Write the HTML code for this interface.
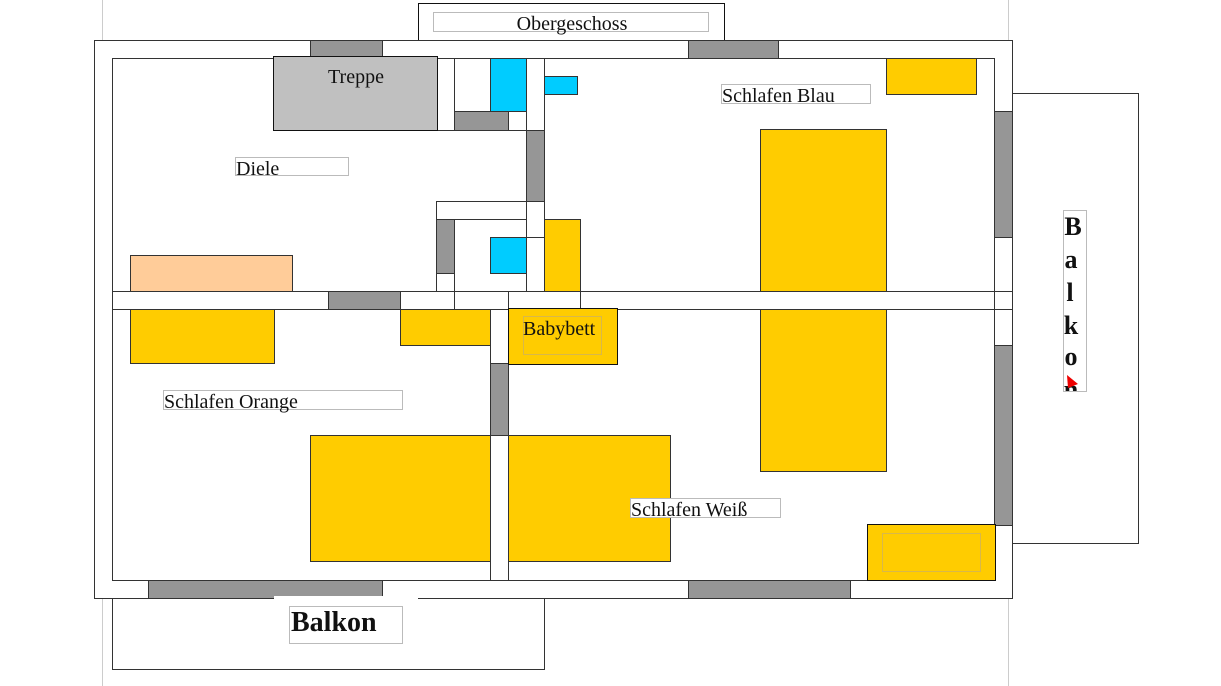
<!DOCTYPE html>
<html><head><meta charset="utf-8"><style>
html,body{margin:0;padding:0;background:#fff;}
svg{display:block;}
text{font-family:"Liberation Serif",serif;fill:#111;}
</style></head><body>
<svg width="1221" height="686" viewBox="0 0 1221 686" xmlns="http://www.w3.org/2000/svg">
<g stroke-width="1" shape-rendering="crispEdges">
<line x1="102.5" y1="0" x2="102.5" y2="686" stroke="#ccc"/>
<line x1="1008.5" y1="0" x2="1008.5" y2="686" stroke="#ccc"/>

<rect x="418.5" y="3.5" width="306" height="37" fill="#fff" stroke="#111"/>
<rect x="433.5" y="12.5" width="275" height="19" fill="#fff" stroke="#bbb"/>

<rect x="94.5" y="40.5" width="918" height="558" fill="#fff" stroke="#333"/>
<rect x="112.5" y="58.5" width="882" height="522" fill="#fff" stroke="#333"/>
<rect x="310.5" y="40.5" width="72" height="18" fill="#969696" stroke="#333"/>
<rect x="688.5" y="40.5" width="90" height="18" fill="#969696" stroke="#333"/>
<rect x="148.5" y="580.5" width="234" height="18" fill="#969696" stroke="#333"/>
<rect x="688.5" y="580.5" width="162" height="18" fill="#969696" stroke="#333"/>
<rect x="994.5" y="111.5" width="18" height="126" fill="#969696" stroke="#333"/>
<rect x="994.5" y="345.5" width="18" height="180" fill="#969696" stroke="#333"/>
<line x1="994.5" y1="291.5" x2="1012" y2="291.5" stroke="#333"/>
<line x1="994.5" y1="309.5" x2="1012" y2="309.5" stroke="#333"/>

<rect x="112.5" y="291.5" width="882" height="18" fill="#fff" stroke="#333"/>
<rect x="328.5" y="291.5" width="72" height="18" fill="#969696" stroke="#333"/>
<line x1="454.5" y1="291" x2="454.5" y2="309" stroke="#333"/>
<line x1="508.5" y1="291" x2="508.5" y2="309" stroke="#333"/>
<line x1="580.5" y1="291" x2="580.5" y2="309" stroke="#333"/>

<rect x="437.5" y="58.5" width="17" height="72" fill="#fff" stroke="#333"/>
<line x1="437" y1="130.5" x2="544" y2="130.5" stroke="#333"/>
<rect x="526.5" y="58.5" width="18" height="233" fill="#fff" stroke="#333"/>
<rect x="526.5" y="130.5" width="18" height="71" fill="#969696" stroke="#333"/>
<line x1="526" y1="237.5" x2="544" y2="237.5" stroke="#333"/>
<rect x="490.5" y="58.5" width="36" height="53" fill="#00ccff" stroke="#333"/>
<rect x="454.5" y="111.5" width="54" height="19" fill="#969696" stroke="#333"/>
<rect x="508.5" y="111.5" width="18" height="19" fill="#fff" stroke="#333"/>
<rect x="544.5" y="76.5" width="33" height="18" fill="#00ccff" stroke="#333"/>
<rect x="436.5" y="201.5" width="90" height="18" fill="#fff" stroke="#333"/>
<rect x="436.5" y="219.5" width="18" height="72" fill="#fff" stroke="#333"/>
<rect x="436.5" y="219.5" width="18" height="54" fill="#969696" stroke="#333"/>
<rect x="490.5" y="237.5" width="36" height="36" fill="#00ccff" stroke="#333"/>
<rect x="544.5" y="219.5" width="36" height="72" fill="#ffcc00" stroke="#333"/>

<rect x="273.5" y="56.5" width="164" height="74" fill="#c0c0c0" stroke="#111"/>
<rect x="130.5" y="255.5" width="162" height="36" fill="#ffcc99" stroke="#333"/>

<rect x="130.5" y="309.5" width="144" height="54" fill="#ffcc00" stroke="#333"/>
<rect x="400.5" y="309.5" width="90" height="36" fill="#ffcc00" stroke="#333"/>
<rect x="490.5" y="309.5" width="18" height="271" fill="#fff" stroke="#333"/>
<rect x="490.5" y="363.5" width="18" height="72" fill="#969696" stroke="#333"/>
<rect x="310.5" y="435.5" width="180" height="126" fill="#ffcc00" stroke="#333"/>
<rect x="508.5" y="435.5" width="162" height="126" fill="#ffcc00" stroke="#333"/>
<rect x="508.5" y="308.5" width="109" height="56" fill="#ffcc00" stroke="#111"/>
<rect x="523.5" y="316.5" width="78" height="38" fill="none" stroke="#d8b84a"/>

<rect x="760.5" y="129.5" width="126" height="162" fill="#ffcc00" stroke="#333"/>
<rect x="760.5" y="309.5" width="126" height="162" fill="#ffcc00" stroke="#333"/>
<rect x="886.5" y="58.5" width="90" height="36" fill="#ffcc00" stroke="#333"/>
<rect x="867.5" y="524.5" width="128" height="56" fill="#ffcc00" stroke="#111"/>
<rect x="882.5" y="533.5" width="98" height="38" fill="none" stroke="#d8b84a"/>

<rect x="235.5" y="157.5" width="113" height="18" fill="#fff" stroke="#bbb"/>
<rect x="721.5" y="84.5" width="149" height="19" fill="#fff" stroke="#bbb"/>
<rect x="163.5" y="390.5" width="239" height="19" fill="#fff" stroke="#bbb"/>
<rect x="630.5" y="498.5" width="150" height="19" fill="#fff" stroke="#bbb"/>

<rect x="1012.5" y="93.5" width="126" height="450" fill="#fff" stroke="#333"/>
<rect x="1063.5" y="210.5" width="23" height="181" fill="#fff" stroke="#bbb"/>

<rect x="112.5" y="598.5" width="432" height="71" fill="#fff" stroke="#333"/>
<rect x="274" y="596" width="144" height="4" fill="#fff"/>
<rect x="289.5" y="606.5" width="113" height="37" fill="#fff" stroke="#bbb"/>
</g>

<text x="572" y="30" font-size="20" text-anchor="middle">Obergeschoss</text>
<text x="356" y="83" font-size="20" text-anchor="middle">Treppe</text>
<text x="236" y="175" font-size="20">Diele</text>
<text x="722" y="102" font-size="20">Schlafen Blau</text>
<text x="164" y="408" font-size="20">Schlafen Orange</text>
<text x="631" y="516" font-size="20">Schlafen Weiß</text>
<text x="523" y="335" font-size="20">Babybett</text>
<text x="291" y="631" font-size="28" font-weight="bold">Balkon</text>
<svg x="1063" y="210" width="24" height="181">
<g font-size="26" font-weight="bold" font-family="Liberation Serif,serif" fill="#111">
<text x="10" y="25" text-anchor="middle">B</text>
<text x="8" y="58" text-anchor="middle">a</text>
<text x="7" y="91" text-anchor="middle">l</text>
<text x="8" y="124" text-anchor="middle">k</text>
<text x="8" y="155" text-anchor="middle">o</text>
<text x="8" y="188" text-anchor="middle">n</text>
</g>
</svg>
<polygon points="1067,375 1078,384 1068,388" fill="#e00"/>
</svg>
</body></html>
